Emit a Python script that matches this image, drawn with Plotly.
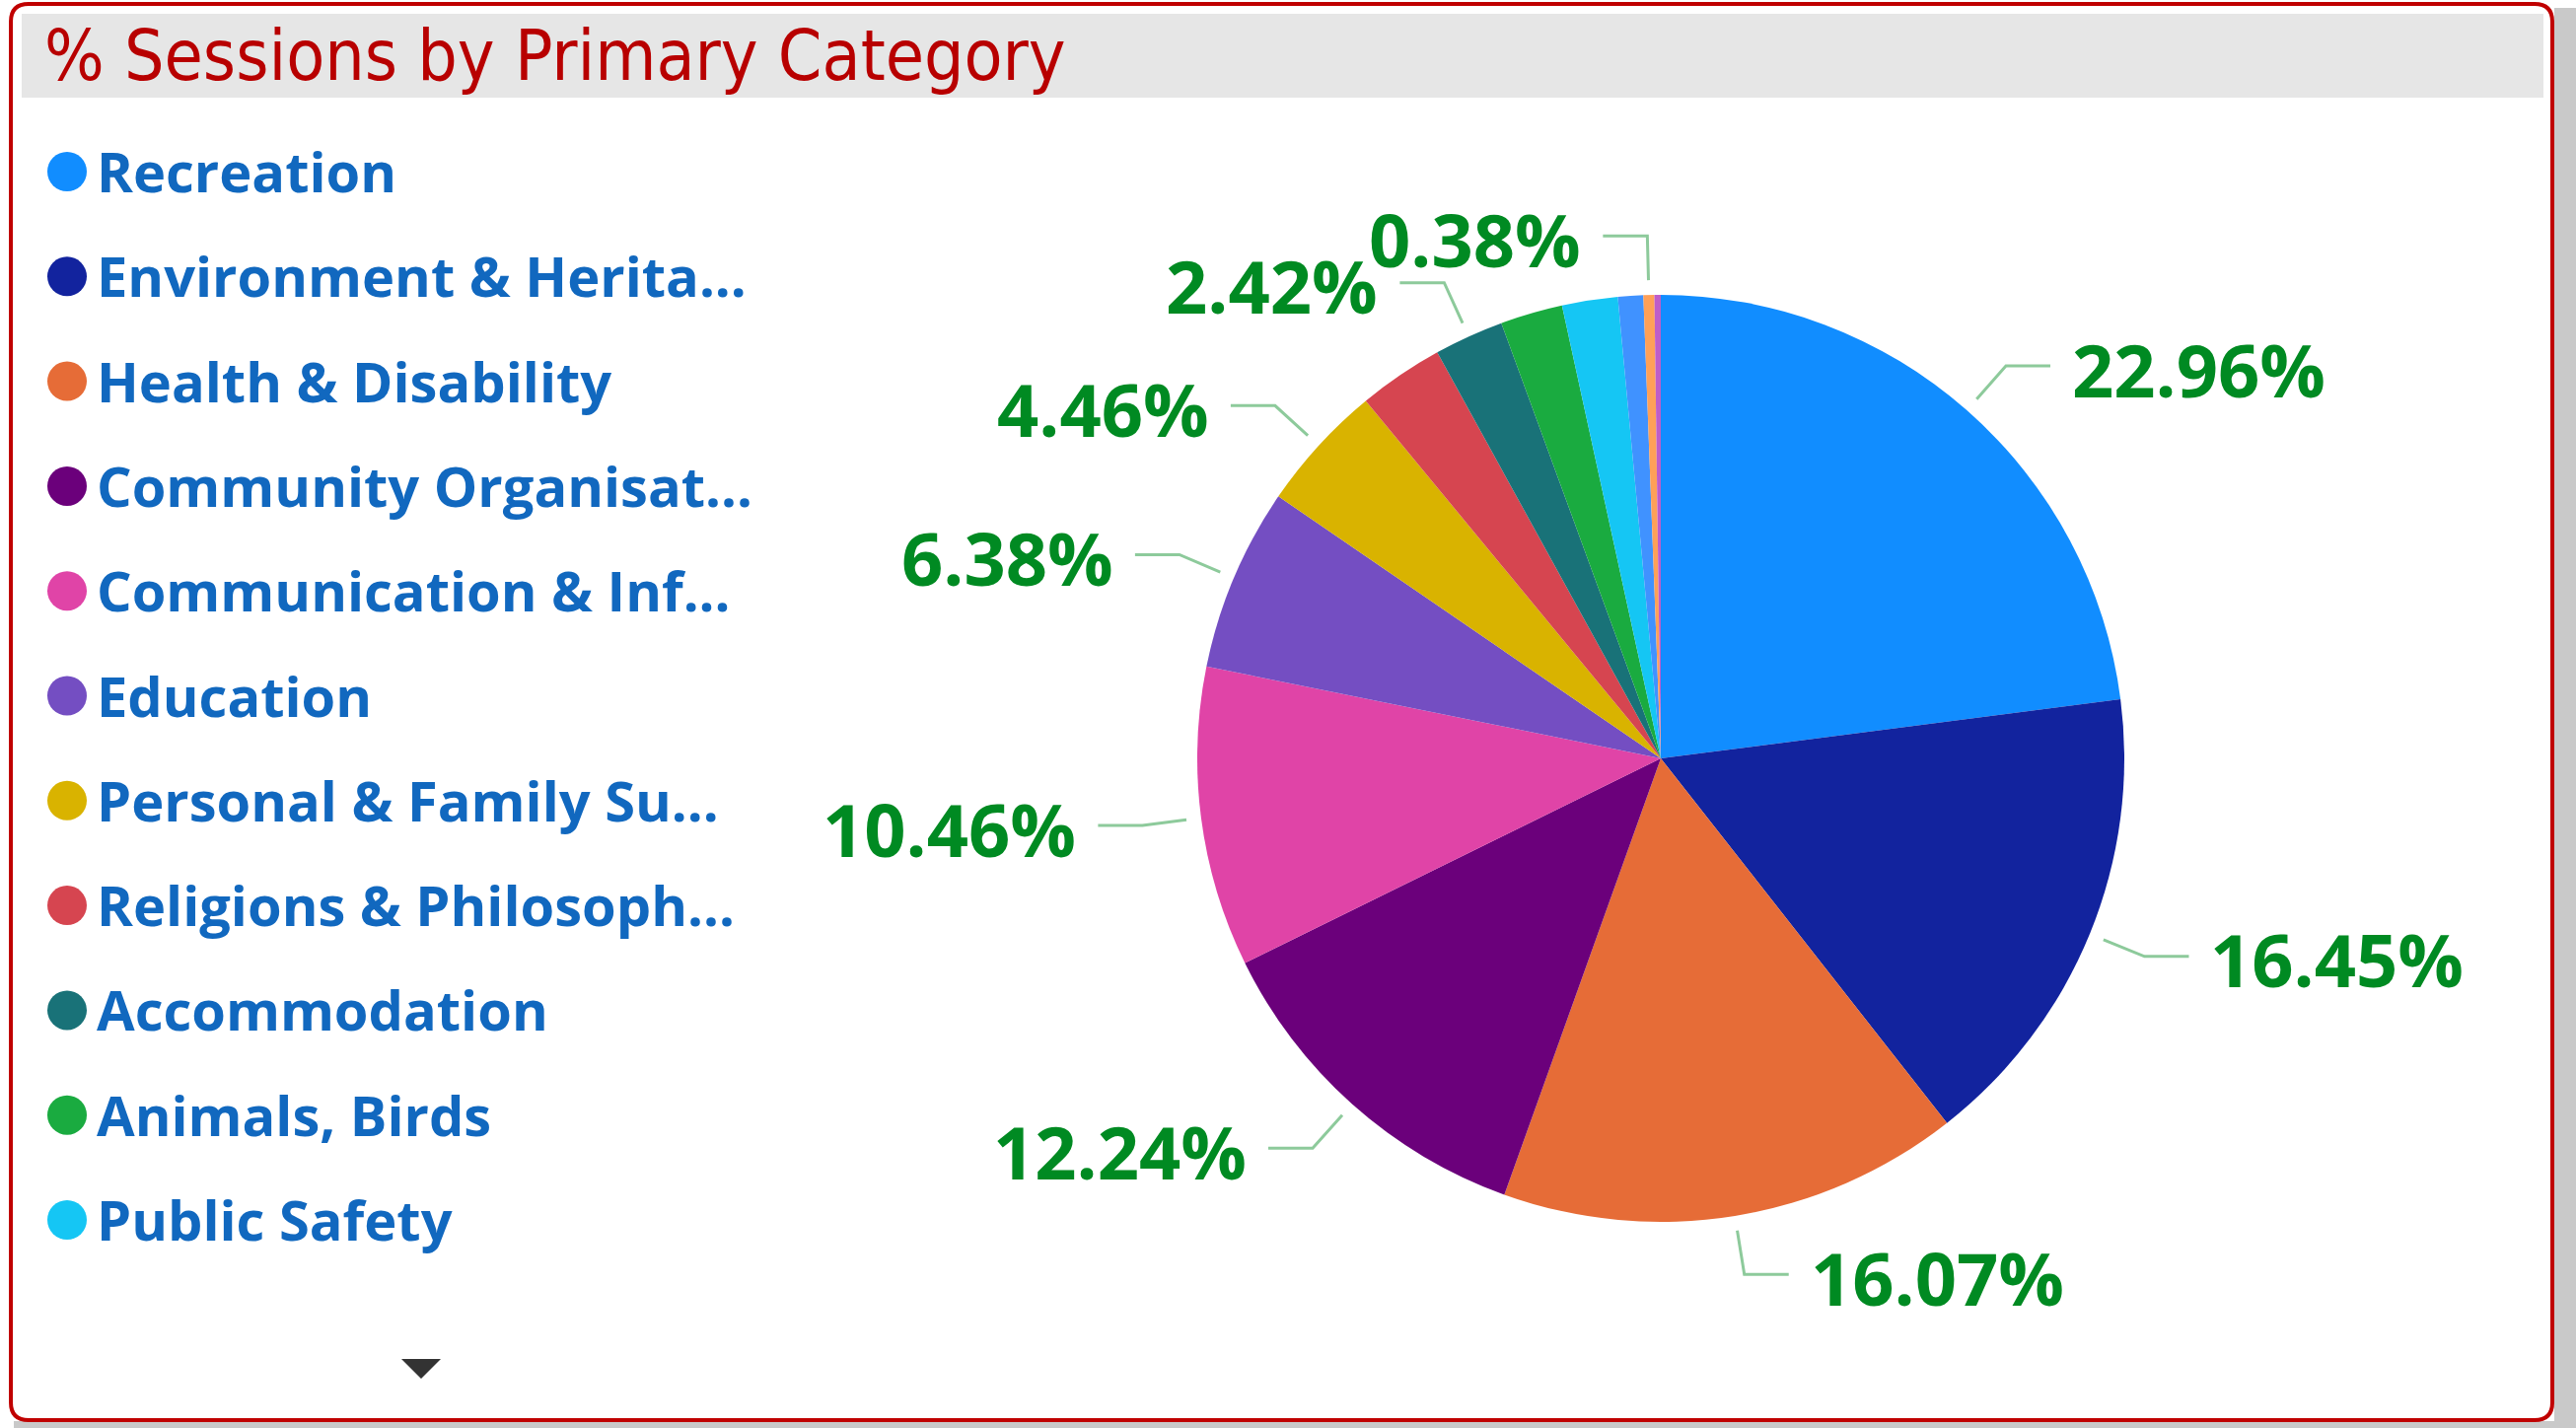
import math
import plotly.graph_objects as go

W, H = 2612, 1448

# ---------------- data ----------------
categories = [
    "Recreation", "Environment & Heritage", "Health & Disability",
    "Community Organisations", "Communication & Information", "Education",
    "Personal & Family Support", "Religions & Philosophies", "Accommodation",
    "Animals, Birds", "Public Safety", "Sport", "Arts & Culture", "Other",
]
legend_labels = [
    "Recreation", "Environment & Herita...", "Health & Disability",
    "Community Organisat...", "Communication & Inf...", "Education",
    "Personal & Family Su...", "Religions & Philosoph...", "Accommodation",
    "Animals, Birds", "Public Safety",
]
share_pct = [22.96, 16.45, 16.07, 12.24, 10.46, 6.38, 4.46, 2.97, 2.42,
             2.17, 1.94, 0.88, 0.38, 0.22]
label_shown = [True, True, True, True, True, True, True, False, True,
               False, False, False, True, False]
colors = ["#118DFF", "#12239E", "#E66C37", "#6B007B", "#E044A7", "#744EC2",
          "#D9B300", "#D64550", "#197278", "#1AAB40", "#15C6F4", "#4092FF",
          "#FFA058", "#BE5DC9"]

# ---------------- geometry helpers ----------------
def px(x):
    return x / W

def py(y):
    return 1 - y / H

cx, cy, R = 1684, 769, 470

fig = go.Figure()
fig.add_trace(go.Pie(
    labels=categories, values=share_pct, sort=False, direction="clockwise",
    rotation=0, marker=dict(colors=colors, line=dict(width=0)),
    textinfo="none", showlegend=False, hoverinfo="label+percent",
    domain=dict(x=[px(cx - R), px(cx + R)], y=[py(cy + R), py(cy - R)]),
))

shapes = []
annotations = []

# outside shadow
shapes.append(dict(type="rect", xref="paper", yref="paper", x0=px(2590), x1=1,
                   y0=0, y1=py(8), fillcolor="#C9C9C9", line=dict(width=0), layer="below"))
shapes.append(dict(type="rect", xref="paper", yref="paper", x0=px(14), x1=1,
                   y0=0, y1=py(1441), fillcolor="#C9C9C9", line=dict(width=0), layer="below"))

# rounded border
def rounded(x0, y0, x1, y1, r):
    return (f"M {px(x0+r)},{py(y0)} L {px(x1-r)},{py(y0)} "
            f"Q {px(x1)},{py(y0)} {px(x1)},{py(y0+r)} L {px(x1)},{py(y1-r)} "
            f"Q {px(x1)},{py(y1)} {px(x1-r)},{py(y1)} L {px(x0+r)},{py(y1)} "
            f"Q {px(x0)},{py(y1)} {px(x0)},{py(y1-r)} L {px(x0)},{py(y0+r)} "
            f"Q {px(x0)},{py(y0)} {px(x0+r)},{py(y0)} Z")

shapes.append(dict(type="path", xref="paper", yref="paper", path=rounded(11, 4, 2588, 1440, 18),
                   fillcolor="white", line=dict(color="#C00000", width=4), layer="below"))
# title band
shapes.append(dict(type="rect", xref="paper", yref="paper", x0=px(22), x1=px(2579),
                   y0=py(99), y1=py(14), fillcolor="#E6E6E6", line=dict(width=0), layer="below"))
annotations.append(dict(text="% Sessions by Primary Category", xref="paper", yref="paper",
                        x=px(43), y=py(57), xanchor="left", yanchor="middle", showarrow=False,
                        font=dict(family="DejaVu Sans Condensed", size=71, color="#B80000")))

# legend
leg_y0, leg_dy = 174, 106.3
for i, lab in enumerate(legend_labels):
    yy = leg_y0 + i * leg_dy
    shapes.append(dict(type="circle", xref="paper", yref="paper",
                       x0=px(48), x1=px(88), y0=py(yy + 20), y1=py(yy - 20),
                       fillcolor=colors[i], line=dict(width=0)))
    annotations.append(dict(text=lab, xref="paper", yref="paper", x=px(96), y=py(yy - 1),
                            xanchor="left", yanchor="middle", showarrow=False,
                            font=dict(family="Open Sans", size=56, color="#1168BF", weight=700)))
# scroll arrow
shapes.append(dict(type="path", xref="paper", yref="paper",
                   path=f"M {px(407)},{py(1378)} L {px(447)},{py(1378)} L {px(427)},{py(1398)} Z",
                   fillcolor="#333333", line=dict(width=0)))

# data labels with leader lines
total = sum(share_pct)
cum = 0.0
for v, show in zip(share_pct, label_shown):
    mid = (cum + v / 2) / total * 2 * math.pi
    cum += v
    if not show:
        continue
    s, c = math.sin(mid), math.cos(mid)
    x1, y1 = cx + (R + 15) * s, cy - (R + 15) * c
    x2, y2 = cx + (R + 60) * s, cy - (R + 60) * c
    side = 1 if s > 0 else -1
    x3 = x2 + side * 45
    shapes.append(dict(type="path", xref="paper", yref="paper",
                       path=f"M {px(x1)},{py(y1)} L {px(x2)},{py(y2)} L {px(x3)},{py(y2)}",
                       line=dict(color="#8DCA9B", width=3)))
    annotations.append(dict(text=f"{v:.2f}%", xref="paper", yref="paper",
                            x=px(x3 + side * 20), y=py(y2 + 3),
                            xanchor="left" if side > 0 else "right", yanchor="middle",
                            showarrow=False,
                            font=dict(family="Open Sans", size=74, color="#008A22", weight=700)))

fig.update_layout(width=W, height=H, margin=dict(l=0, r=0, t=0, b=0),
                  paper_bgcolor="white", plot_bgcolor="white",
                  shapes=shapes, annotations=annotations)
fig.write_html("out.html", config={"displayModeBar": False},
               post_script="document.body.style.margin='0';document.body.style.overflow='hidden';")
